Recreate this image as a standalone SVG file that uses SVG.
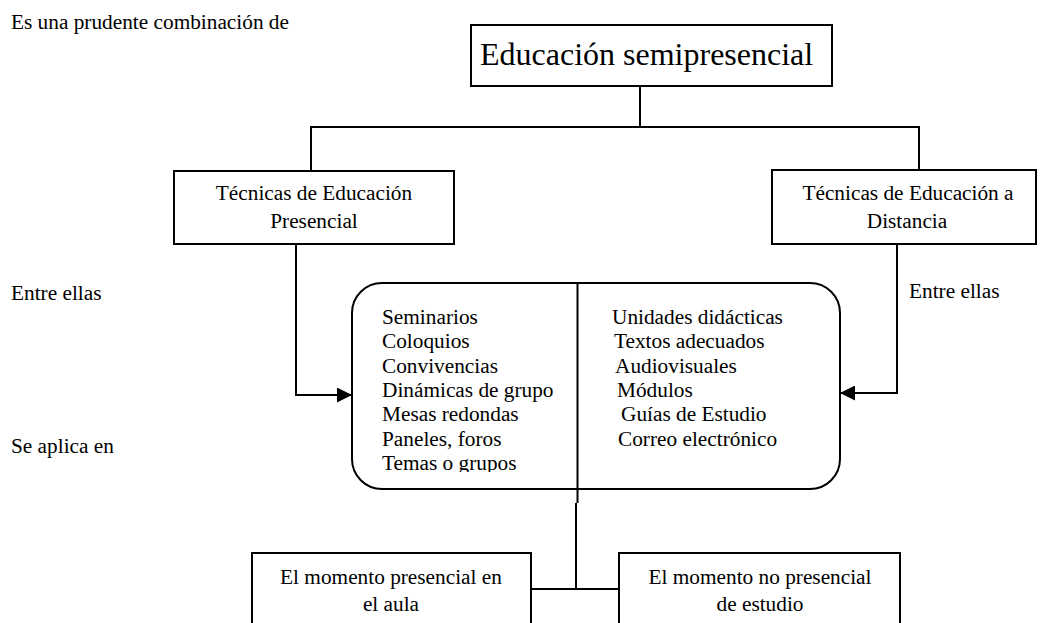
<svg xmlns="http://www.w3.org/2000/svg" width="1041" height="623" viewBox="0 0 1041 623">
<defs>
<style>
text{font-family:"Liberation Serif","Times New Roman",serif;fill:#000}
.t{font-size:21.3px}
.c{text-anchor:middle}
.box{fill:#fff;stroke:#000;stroke-width:2}
.ln{fill:none;stroke:#000;stroke-width:2}
</style>
<marker id="ah" viewBox="0 0 15 15" refX="15" refY="7.5" markerWidth="15" markerHeight="15" markerUnits="userSpaceOnUse" orient="auto">
<path d="M0,0 L15,7.5 L0,15 z" fill="#000"/>
</marker>
<clipPath id="listclip"><rect x="352" y="283" width="488" height="189"/></clipPath>
</defs>
<rect width="1041" height="623" fill="#fff"/>
<text class="t" x="11" y="29">Es una prudente combinación de</text>
<text class="t" x="11" y="300">Entre ellas</text>
<text class="t" x="909" y="298">Entre ellas</text>
<text class="t" x="11" y="453">Se aplica en</text>
<g id="top">
<rect class="box" x="471" y="25" width="361" height="61"/>
<text x="480" y="65" font-size="32">Educación semipresencial</text>
</g>
<g id="presencial">
<rect class="box" x="174" y="171" width="280" height="73"/>
<text class="t c" x="314" y="200">Técnicas de Educación</text>
<text class="t c" x="314" y="228">Presencial</text>
</g>
<g id="distancia">
<rect class="box" x="772" y="170" width="264" height="74"/>
<text class="t c" x="908" y="200">Técnicas de Educación a</text>
<text class="t c" x="907" y="228">Distancia</text>
</g>
<g id="lista">
<rect class="box" x="352" y="283" width="488" height="206" rx="30"/>
<g clip-path="url(#listclip)">
<text class="t" x="382" y="324">Seminarios</text>
<text class="t" x="382" y="348.3">Coloquios</text>
<text class="t" x="382" y="372.6">Convivencias</text>
<text class="t" x="382" y="396.9">Dinámicas de grupo</text>
<text class="t" x="382" y="421.2">Mesas redondas</text>
<text class="t" x="382" y="445.5">Paneles, foros</text>
<text class="t" x="382" y="469.8">Temas o grupos</text>
</g>
<text class="t" x="612" y="324">Unidades didácticas</text>
<text class="t" x="614" y="348.3">Textos adecuados</text>
<text class="t" x="615" y="372.6">Audiovisuales</text>
<text class="t" x="617" y="396.9">Módulos</text>
<text class="t" x="621" y="421.2">Guías de Estudio</text>
<text class="t" x="618" y="445.5">Correo electrónico</text>
</g>
<g id="aula">
<rect class="box" x="252" y="553" width="279" height="90"/>
<text class="t c" x="391" y="584">El momento presencial en</text>
<text class="t c" x="391" y="611">el aula</text>
</g>
<g id="estudio">
<rect class="box" x="619" y="553" width="281" height="90"/>
<text class="t c" x="760" y="584">El momento no presencial</text>
<text class="t c" x="760" y="611">de estudio</text>
</g>
<g id="connectors">
<path class="ln" d="M640,86 V127"/>
<path class="ln" d="M311,171 V127 H919 V170"/>
<path class="ln" d="M296,244 V395 H352" marker-end="url(#ah)"/>
<path class="ln" d="M897,244 V393 H840" marker-end="url(#ah)"/>
<path class="ln" d="M577.5,283 V503 M576,503 V589"/>
<path class="ln" d="M531,589 H619"/>
</g>
</svg>
